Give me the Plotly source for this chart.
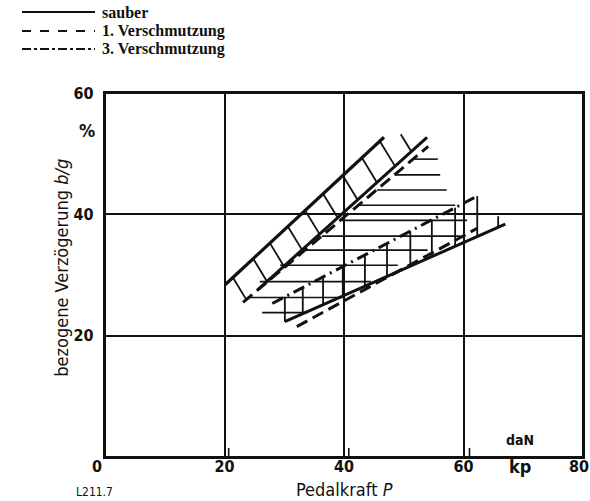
import plotly.graph_objects as go

# ---------------- data ----------------
series_names = ["sauber", "1. Verschmutzung", "3. Verschmutzung"]

x_ticks = [0, 20, 40, 60, 80]
y_ticks = [20, 40, 60]

# boundary lines of the upper band (Pedalkraft, Verzögerung)
upper_solid_top_x = [20.1, 46.7]
upper_solid_top_y = [28.4, 52.7]
upper_solid_bot_x = [25.6, 53.9]
upper_solid_bot_y = [27.6, 52.7]
upper_dashed_x = [23.1, 54.1]
upper_dashed_y = [25.5, 51.2]

# boundary lines of the lower band
lower_dashdot_x = [28.0, 61.9]
lower_dashdot_y = [25.3, 42.8]
lower_solid_x = [30.1, 67.0]
lower_solid_y = [22.3, 38.4]
lower_dashed_x = [32.1, 62.3]
lower_dashed_y = [21.5, 37.7]

# oblique hatching of the upper band (start positions on top line)
upper_tick_x = [21.4, 24.8, 27.6, 30.6, 33.5, 36.5, 39.8, 43.0, 46.0]
upper_tick_free_x = [49.5]
upper_tick_free_y = [53.2]
upper_tick_slope = -1.62

# vertical hatching of the lower band
lower_tick_x = [30.1, 33.1, 36.5, 39.8, 43.5, 47.2, 51.1, 54.7, 58.6, 62.3]
lower_tick_free_x = [65.8]
lower_tick_free_y = [39.7]

# horizontal hatching
hatch_y = [49.1, 46.5, 44.0, 41.5, 39.0, 36.4, 34.1, 31.6, 28.9, 26.3, 23.8]
hatch_x0 = [51.6, 48.5, 45.5, 42.3, 39.7, 36.3, 33.5, 29.3, 25.9, 23.8, 26.3]
hatch_x1 = [55.7, 56.1, 57.2, 58.6, 60.6, 59.5, 54.0, 49.0, 44.5, 39.8, 33.8]

# small double tick marks on the x axis
axis_mark_x = [20.7, 40.8, 61.0]
axis_mark_h = 1.5


def line_y(xs, ys, x):
    m = (ys[1] - ys[0]) / (xs[1] - xs[0])
    return ys[0] + m * (x - xs[0])


def slope(xs, ys):
    return (ys[1] - ys[0]) / (xs[1] - xs[0])


fig = go.Figure()
BLACK = "#111111"


def add_line(xs, ys, width, dash="solid"):
    fig.add_trace(go.Scatter(x=xs, y=ys, mode="lines", showlegend=False,
                             hoverinfo="skip", cliponaxis=False,
                             line=dict(color=BLACK, width=width, dash=dash)))


# horizontal hatching
hx, hy = [], []
for y, a, b in zip(hatch_y, hatch_x0, hatch_x1):
    hx += [a, b, None]
    hy += [y, y, None]
add_line(hx, hy, 1.6)

# oblique hatching in the upper band: from top line down to bottom line
m2 = slope(upper_solid_bot_x, upper_solid_bot_y)
tx, ty = [], []
starts = [(x, line_y(upper_solid_top_x, upper_solid_top_y, x)) for x in upper_tick_x]
starts += list(zip(upper_tick_free_x, upper_tick_free_y))
for x0, y0 in starts:
    d = y0 - line_y(upper_solid_bot_x, upper_solid_bot_y, x0)
    t = d / (-upper_tick_slope + m2)
    tx += [x0, x0 + t, None]
    ty += [y0, y0 + upper_tick_slope * t, None]
add_line(tx, ty, 1.8)

# vertical hatching in the lower band
vx, vy = [], []
for x in lower_tick_x:
    vx += [x, x, None]
    vy += [line_y(lower_dashdot_x, lower_dashdot_y, x),
           line_y(lower_solid_x, lower_solid_y, x), None]
for x, y in zip(lower_tick_free_x, lower_tick_free_y):
    vx += [x, x, None]
    vy += [y, line_y(lower_solid_x, lower_solid_y, x), None]
add_line(vx, vy, 1.8)

# band boundary lines
add_line(upper_solid_top_x, upper_solid_top_y, 3.2)
add_line(upper_solid_bot_x, upper_solid_bot_y, 3.0)
add_line(upper_dashed_x, upper_dashed_y, 3.0, "12px,6px")
add_line(lower_dashdot_x, lower_dashdot_y, 3.0, "12px,5px,2px,5px")
add_line(lower_solid_x, lower_solid_y, 3.0)
add_line(lower_dashed_x, lower_dashed_y, 3.0, "12px,6px")

# double tick marks on the x axis
mx, my = [], []
for x in axis_mark_x:
    mx += [x, x, None]
    my += [0, axis_mark_h, None]
add_line(mx, my, 1.6)

COND = "DejaVu Sans Condensed, Liberation Sans Narrow, Arial Narrow, sans-serif"
SERIF = "Liberation Serif, DejaVu Serif, serif"
TICKFONT = dict(family=COND, size=16, color=BLACK, weight="bold")

# the first and last x labels sit beside the frame corners, so draw them as text
inner_x_ticks = x_ticks[1:-1]

fig.update_layout(
    width=590, height=501,
    margin=dict(l=105, r=7, t=93, b=44, autoexpand=False),
    paper_bgcolor="white", plot_bgcolor="white",
    showlegend=False,
    xaxis=dict(range=[x_ticks[0], x_ticks[-1]], tickvals=inner_x_ticks,
               ticktext=[str(v) for v in inner_x_ticks],
               showgrid=True, gridcolor=BLACK, gridwidth=1.6,
               showline=True, linecolor=BLACK, linewidth=2.4, mirror=True,
               zeroline=False, ticks="", ticklabelstandoff=-6,
               ticklabeloverflow="allow", automargin=False, tickfont=TICKFONT),
    yaxis=dict(range=[0, 60], tickvals=y_ticks, ticktext=[str(v) for v in y_ticks],
               showgrid=True, gridcolor=BLACK, gridwidth=1.6,
               showline=True, linecolor=BLACK, linewidth=2.4, mirror=True,
               zeroline=False, ticks="", ticklabelstandoff=6,
               ticklabeloverflow="allow", automargin=False, tickfont=TICKFONT),
)

for v, anchor, shift in [(x_ticks[0], "center", -8), (x_ticks[-1], "right", 8)]:
    fig.add_annotation(text=str(v), x=v, xref="x", yref="paper", y=-0.025,
                       xanchor=anchor, yanchor="middle", xshift=shift,
                       showarrow=False, font=TICKFONT)

# plot frame (right and top edges)
fig.add_shape(type="rect", xref="paper", yref="paper", x0=0, x1=1, y0=0, y1=1,
              line=dict(color=BLACK, width=2.0), layer="above")

# legend drawn by hand (long line samples like the original)
legend_rows = [1.2225, 1.1703, 1.1209]
legend_dash = ["solid", "dash", "dashdot"]
for name, yy, dsh in zip(series_names, legend_rows, legend_dash):
    fig.add_shape(type="line", xref="paper", yref="paper",
                  x0=-0.1736, x1=-0.0209, y0=yy, y1=yy,
                  line=dict(color=BLACK, width=1.8, dash=dsh))
    fig.add_annotation(text=name, xref="paper", yref="paper", x=-0.0105, y=yy,
                       xanchor="left", yanchor="middle", showarrow=False,
                       font=dict(family=SERIF, size=16, color=BLACK, weight="bold"))

# axis titles and extra text
fig.add_annotation(text="bezogene Verzögerung <i>b/g</i>", xref="paper", yref="paper",
                   x=-0.09, y=0.52, textangle=-90, showarrow=False,
                   xanchor="center", yanchor="middle",
                   font=dict(family=COND, size=18, color=BLACK))
fig.add_annotation(text="Pedalkraft <i>P</i>", xref="paper", yref="paper",
                   x=0.5, y=-0.088, showarrow=False, xanchor="center", yanchor="middle",
                   font=dict(family=COND, size=18, color=BLACK))
fig.add_annotation(text="%", xref="paper", yref="paper", x=-0.038, y=0.898,
                   showarrow=False, xanchor="center", yanchor="middle",
                   font=dict(family=COND, size=18, color=BLACK, weight="bold"))
fig.add_annotation(text="daN", x=69.5, y=2.8, showarrow=False,
                   xanchor="center", yanchor="middle",
                   font=dict(family=COND, size=14, color=BLACK, weight="bold"))
fig.add_annotation(text="kp", x=69.5, xref="x", yref="paper", y=-0.025, showarrow=False,
                   xanchor="center", yanchor="middle",
                   font=dict(family=COND, size=18, color=BLACK, weight="bold"))
fig.add_annotation(text="L211.7", xref="paper", yref="paper", x=-0.021, y=-0.096,
                   showarrow=False, xanchor="center", yanchor="middle",
                   font=dict(family=COND, size=12, color=BLACK))

fig.write_html("out.html", config={"displayModeBar": False},
               post_script="document.body.style.margin='0';document.body.style.overflow='hidden';")
